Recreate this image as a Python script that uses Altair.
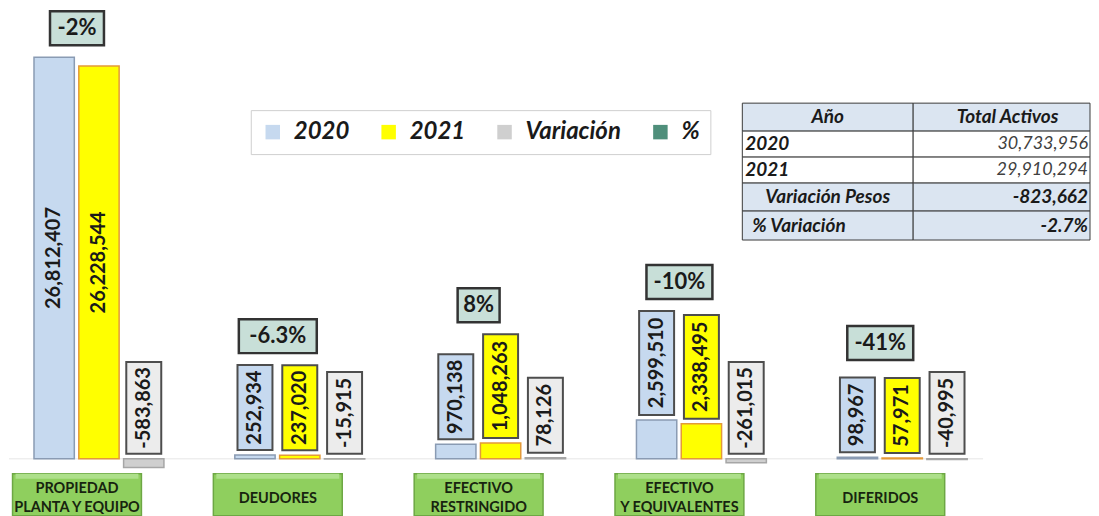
import altair as alt
import pandas as pd

# ---------------- data ----------------
categories = ["PROPIEDAD PLANTA Y EQUIPO", "DEUDORES", "EFECTIVO RESTRINGIDO",
              "EFECTIVO Y EQUIVALENTES", "DIFERIDOS"]
category_labels = ["PROPIEDAD\nPLANTA Y EQUIPO", "DEUDORES", "EFECTIVO\nRESTRINGIDO",
                   "EFECTIVO\nY EQUIVALENTES", "DIFERIDOS"]
series = ["2020", "2021", "Variación"]
values_2020 = [26812407, 252934, 970138, 2599510, 98967]
values_2021 = [26228544, 237020, 1048263, 2338495, 57971]
values_var = [-583863, -15915, 78126, -261015, -40995]
pct_labels = ["-2%", "-6.3%", "8%", "-10%", "-41%"]

table_header = ["Año", "Total Activos"]
table_rows = ["2020", "2021", "Variación Pesos", "% Variación"]
table_values = ["30,733,956", "29,910,294", "-823,662", "-2.7%"]

# ---------------- layout ----------------
W, H = 1083, 508
BASE = 451                      # px from plot top to zero line
U = 26812407 / 402              # data units per pixel
Y_DOMAIN = [-(H - BASE) * U, BASE * U]
GAP = 5
FONT = "Lato"

def label_len(t):
    return 10 * sum(ch.isdigit() for ch in t) + 9 * t.count(",") + 7 * t.count("-") + 16

rows = []
for i, c in enumerate(categories):
    for s, vals in zip(series, [values_2020, values_2021, values_var]):
        v = vals[i]
        rows.append(dict(cat=c, series=s, value=v, text=f"{v:,}"))
df = pd.DataFrame(rows)
df["len"] = df["text"].map(label_len)
df["inside"] = (df["value"] > 0) & (df["value"].abs() / U > df["len"] + 20)
df["box_lo"] = df["value"].clip(lower=0) + GAP * U
df["box_hi"] = df["box_lo"] + df["len"] * U
df["text_y"] = df["value"] / 2
df.loc[~df["inside"], "text_y"] = (df["box_lo"] + df["box_hi"]) / 2
df["stack_top"] = df["box_hi"]
df.loc[df["inside"], "stack_top"] = df["value"]

tops = df.groupby("cat", sort=False)["stack_top"].max()
pdf = pd.DataFrame({"cat": categories, "pct": pct_labels})
pdf["lo"] = [tops[c] + 12 * U for c in categories]
pdf["hi"] = pdf["lo"] + 34 * U
pdf["mid"] = (pdf["lo"] + pdf["hi"]) / 2
pdf["w"] = [12 * len(p) + 18 for p in pct_labels]

cdf = pd.DataFrame({"cat": categories, "label": category_labels})
cdf["lo"] = -15 * U
cdf["hi"] = -(H - BASE) * U
cdf["hl"] = -20 * U
nlines = cdf["label"].str.count("\n") + 1
cdf["mid"] = [(-40 + 9.5 * (n - 1)) * U for n in nlines]

X = alt.X("cat:N", sort=categories, axis=None,
          scale=alt.Scale(domain=categories, paddingInner=0.353, paddingOuter=0.3705, align=0.168))
XO = alt.XOffset("series:N", sort=series,
                 scale=alt.Scale(domain=series, paddingInner=0.1, paddingOuter=0))
YS = alt.Scale(domain=Y_DOMAIN, nice=False, zero=False)

legend = alt.Legend(orient="none", legendX=242, legendY=102, direction="horizontal", title=None,
                    columns=4, symbolType="square", symbolSize=210, symbolStrokeWidth=1,
                    labelFont=FONT, labelFontSize=24, labelFontStyle="italic", labelFontWeight="bold",
                    labelColor="#1a1a1a", labelOffset=9, columnPadding=27, padding=10,
                    fillColor="white", strokeColor="#cfcfcf")

color_scale = alt.Scale(domain=series + ["%"], range=["#c6d9ef", "#ffff00", "#cfcfcf", "#4f8f7b"])

baseline = alt.Chart(pd.DataFrame({"z": [0]})).mark_rule(color="#e6e6e6", strokeWidth=1).encode(
    y=alt.Y("z:Q", scale=YS, axis=None), x=alt.value(0), x2=alt.value(975))

bars = alt.Chart(df).mark_bar(strokeWidth=1.5).encode(
    x=X, xOffset=XO,
    y=alt.Y("value:Q", scale=YS, axis=None),
    color=alt.Color("series:N", scale=color_scale, legend=legend),
    stroke=alt.Stroke("series:N", scale=alt.Scale(domain=series, range=["#8a9bb3", "#e39a3a", "#a6a6a6"]),
                      legend=None),
)

boxes = alt.Chart(df[~df["inside"]]).mark_bar(width=35, stroke="#4d4d4d", strokeWidth=2).encode(
    x=X, xOffset=XO,
    y=alt.Y("box_lo:Q", scale=YS, axis=None), y2="box_hi:Q",
    fill=alt.Fill("series:N", scale=alt.Scale(domain=series, range=["#c6d9ef", "#ffff00", "#ececec"]),
                  legend=None),
)

labels = alt.Chart(df).mark_text(angle=270, font=FONT, fontSize=20, fontWeight="bold",
                                 color="#1a1a1a", align="center", baseline="middle").encode(
    x=X, xOffset=XO,
    y=alt.Y("text_y:Q", scale=YS, axis=None),
    text="text:N",
)

pct_boxes = alt.Chart(pdf).mark_bar(width=alt.ExprRef(expr="datum.w"), xOffset=-22,
                                    fill="#c8dfd8", stroke="#333333", strokeWidth=2.5).encode(
    x=X, y=alt.Y("lo:Q", scale=YS, axis=None), y2="hi:Q")

pct_text = alt.Chart(pdf).mark_text(dx=-22, font=FONT, fontSize=22, fontWeight="bold",
                                    color="#1a1a1a", baseline="middle").encode(
    x=X, y=alt.Y("mid:Q", scale=YS, axis=None), text="pct:N")

cat_boxes = alt.Chart(cdf).mark_bar(width=129, xOffset=-22, fill="#8fcf5e", stroke="#6da744",
                                    strokeWidth=1.5).encode(
    x=X, y=alt.Y("lo:Q", scale=YS, axis=None), y2="hi:Q")

cat_hl = alt.Chart(cdf).mark_bar(width=123, xOffset=-22, fill="#ade08a").encode(
    x=X, y=alt.Y("lo:Q", scale=YS, axis=None), y2="hl:Q")

cat_text = alt.Chart(cdf).mark_text(dx=-22, font=FONT, fontSize=14.5, fontWeight="bold",
                                    color="#17240f", baseline="middle", lineBreak="\n",
                                    lineHeight=19).encode(
    x=X, y=alt.Y("mid:Q", scale=YS, axis=None), text="label:N")

# ---------------- table (pixel layout) ----------------
t_left, t_div, t_right = 734, 905, W - 1
row_y = [95, 123, 149, 175, 203, 232]
row_fill = ["#dbe5f1", "white", "white", "#dbe5f1", "#dbe5f1"]
cells = []
for r in range(5):
    for (a, b) in [(t_left, t_div), (t_div, t_right)]:
        cells.append(dict(x0=a, x1=b, y0=row_y[r], y1=row_y[r + 1], fill=row_fill[r]))
cells_df = pd.DataFrame(cells)

texts = []
mid = lambda r: (row_y[r] + row_y[r + 1]) / 2
texts.append(dict(x=(t_left + t_div) / 2, y=mid(0), t=table_header[0], al="center", w="bold", c="#1a1a1a"))
texts.append(dict(x=(t_div + t_right) / 2 + 6, y=mid(0), t=table_header[1], al="center", w="bold", c="#1a1a1a"))
for k, (lab, val) in enumerate(zip(table_rows, table_values)):
    r = k + 1
    if k < 2:
        texts.append(dict(x=t_left + 3, y=mid(r), t=lab, al="left", w="bold", c="#1a1a1a"))
        texts.append(dict(x=t_right - 2, y=mid(r), t=val, al="right", w="normal", c="#404040"))
    else:
        if k == 2:
            texts.append(dict(x=(t_left + t_div) / 2, y=mid(r), t=lab, al="center", w="bold", c="#1a1a1a"))
        else:
            texts.append(dict(x=t_left + 10, y=mid(r), t=lab, al="left", w="bold", c="#1a1a1a"))
        texts.append(dict(x=t_right - 2, y=mid(r), t=val, al="right", w="bold", c="#1a1a1a"))
texts_df = pd.DataFrame(texts)

table_cells = alt.Chart(cells_df).mark_rect(stroke="#3a3a3a", strokeWidth=1).encode(
    x=alt.X("x0:Q", scale=None, axis=None), x2="x1:Q",
    y=alt.Y("y0:Q", scale=None, axis=None), y2="y1:Q",
    fill=alt.Fill("fill:N", scale=None, legend=None))

table_text_parts = []
for (al, w), sub in texts_df.groupby(["al", "w"]):
    table_text_parts.append(
        alt.Chart(sub).mark_text(font=FONT, fontSize=19 if w == "bold" else 18, fontStyle="italic",
                                 fontWeight=w, align=al, baseline="middle").encode(
            x=alt.X("x:Q", scale=None, axis=None),
            y=alt.Y("y:Q", scale=None, axis=None),
            text="t:N",
            color=alt.Color("c:N", scale=None, legend=None)))

chart = alt.layer(baseline, bars, boxes, labels, pct_boxes, pct_text, cat_boxes, cat_hl, cat_text,
                  table_cells, *table_text_parts).properties(
    width=W, height=H, padding=0, background="white"
).configure_view(stroke=None)

chart.save("out.html", embed_options={"renderer": "svg", "actions": False})
